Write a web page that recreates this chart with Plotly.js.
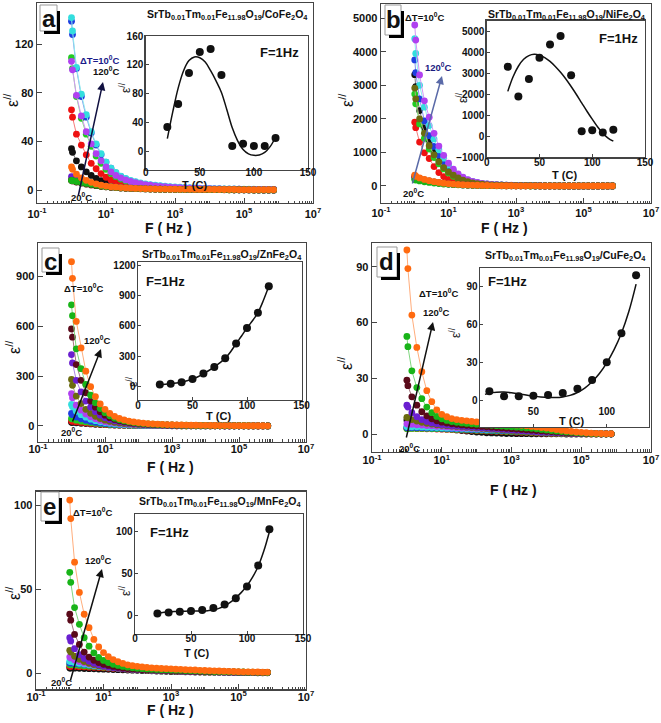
<!DOCTYPE html>
<html><head><meta charset="utf-8">
<script src="https://cdn.plot.ly/plotly-3.0.1.min.js"></script>
<style>html,body{margin:0;padding:0;background:#fff}#chart{width:661px;height:723px}</style>
</head><body><div id="chart"></div>
<script>
// ---------------- DATA ----------------
const freq = [1, 1.07, 1.39, 1.93, 2.68, 3.73, 5.18, 7.2, 10, 13.9, 19.3, 26.8, 37.3, 51.8, 72, 100, 139, 193, 268, 373, 518, 720, 1000, 1390, 1930, 2680, 3730, 5180, 7200, 10000, 13900, 19300, 26800, 37300, 51800, 72000, 100000, 139000, 193000, 268000, 373000, 518000, 720000];
const temps = [20, 30, 40, 50, 60, 70, 80, 90, 100, 110, 120];
const xTickVals = [0.1, 10, 1000, 100000, 10000000];
const xTickText = ['10<sup>-1</sup>', '10<sup>1</sup>', '10<sup>3</sup>', '10<sup>5</sup>', '10<sup>7</sup>'];

// Panel a : CoFe2O4
const a20 = [34,31,24,19,15,12,9.5,7.8,6.3,5.2, 4.3,3.6,3,2.5,2.1,1.8,1.5,1.3,1.1,1, 0.9,0.8,0.7,0.6,0.6,0.5,0.5,0.4,0.4,0.4, 0.3,0.3,0.3,0.3,0.2,0.2,0.2,0.2,0.2,0.2, 0.1,0.1,0.1];
const a30 = [66,60,46,37,29,22,17.5,13.5,10.5,8.3, 6.7,5.4,4.4,3.7,3.1,2.6,2.2,1.9,1.6,1.4, 1.2,1.1,1,0.9,0.8,0.7,0.7,0.6,0.6,0.5, 0.5,0.4,0.4,0.4,0.3,0.3,0.3,0.3,0.2,0.2, 0.2,0.2,0.2];
const a40 = [109,100,77,59,46,36,28,22,17,13.5, 11,9,7.5,6.3,5.3,4.5,3.9,3.4,3,2.6, 2.3,2,1.8,1.6,1.4,1.3,1.2,1.1,1,0.9, 0.8,0.7,0.7,0.6,0.6,0.5,0.5,0.4,0.4,0.4, 0.3,0.3,0.3];
const a50 = [139,128,100,77,60,47,37,29,23,18, 14,11.3,9.2,7.6,6.4,5.4,4.6,4,3.5,3.1, 2.7,2.4,2.1,1.9,1.7,1.5,1.4,1.3,1.2,1.1, 1,0.9,0.8,0.8,0.7,0.7,0.6,0.6,0.5,0.5, 0.5,0.4,0.4];
const a60 = [142,131,101,79,62,48,38,30,23,18, 14.5,11.5,9.5,8,6.8,5.8,5,4.4,3.9,3.5, 3.1,2.8,2.5,2.3,2.1,1.9,1.7,1.5,1.4,1.3, 1.2,1.1,1,0.9,0.85,0.8,0.75,0.7,0.65,0.6, 0.55,0.5,0.5];
const a70 = [106,99,78,61,48,38,30,24,19,15, 12,10,8.3,7,6,5.2,4.5,3.9,3.4,3, 2.7,2.4,2.1,1.9,1.7,1.5,1.4,1.3,1.2,1.1, 1,0.9,0.8,0.8,0.7,0.7,0.6,0.6,0.5,0.5, 0.5,0.4,0.4];
const a80 = [8,7.6,6.8,5.8,5,4.3,3.6,3.1,2.7,2.3, 2,1.7,1.5,1.3,1.2,1.1,1,0.9,0.8,0.7, 0.7,0.6,0.6,0.5,0.5,0.5,0.4,0.4,0.4,0.3, 0.3,0.3,0.3,0.2,0.2,0.2,0.2,0.2,0.1,0.1, 0.1,0.1,0.1];
const a90 = [11,10.5,9,7.5,6.3,5.3,4.5,3.8,3.2,2.7, 2.3,2,1.7,1.5,1.3,1.2,1.1,1,0.9,0.8, 0.7,0.7,0.6,0.6,0.5,0.5,0.5,0.4,0.4,0.4, 0.3,0.3,0.3,0.3,0.2,0.2,0.2,0.2,0.2,0.1, 0.1,0.1,0.1];
const a100 = [8,7.5,6.6,5.7,4.9,4.2,3.6,3.1,2.6,2.2, 1.9,1.6,1.4,1.2,1.1,1,0.9,0.8,0.7,0.7, 0.6,0.6,0.5,0.5,0.5,0.4,0.4,0.4,0.3,0.3, 0.3,0.3,0.2,0.2,0.2,0.2,0.2,0.1,0.1,0.1, 0.1,0.1,0.1];
const a110 = [8,7.7,7,6.2,5.4,4.7,4,3.4,2.9,2.5, 2.1,1.8,1.6,1.4,1.2,1.1,1,0.9,0.8,0.7, 0.7,0.6,0.6,0.5,0.5,0.5,0.4,0.4,0.4,0.3, 0.3,0.3,0.3,0.2,0.2,0.2,0.2,0.2,0.1,0.1, 0.1,0.1,0.1];
const a120 = [19,17,13,10,8,6.3,5,4,3.2,2.7, 2.3,2,1.7,1.5,1.3,1.2,1.1,1,0.9,0.8, 0.8,0.7,0.7,0.6,0.6,0.6,0.5,0.5,0.5,0.5, 0.4,0.4,0.4,0.4,0.4,0.3,0.3,0.3,0.3,0.3, 0.3,0.3,0.3];

// Panel b : NiFe2O4
const b20 = [3320,2960,2250,1730,1320,1000,780,600,450,340, 250,185,135,100,75,58,45,36,29,24, 20,17,14,12,10,9,8,7,6,5, 5,4,4,3,3,3,2,2,2,2, 2,1,1];
const b30 = [1900,1740,1310,990,820,580,400,280,200,150, 110,80,60,45,35,28,22,18,15,12, 10,9,8,7,6,5,4,4,3,3, 3,2,2,2,2,1,1,1,1,1, 1,1,1];
const b40 = [2740,2450,1850,1420,1100,850,660,510,390,290, 220,160,120,90,68,52,40,32,26,21, 17,14,12,10,9,8,7,6,5,4, 4,3,3,3,2,2,2,2,1,1, 1,1,1];
const b50 = [3760,3380,2600,1940,1500,1180,920,700,530,400, 300,220,160,120,90,70,55,43,34,27, 22,18,15,12,10,9,8,7,6,5, 5,4,4,3,3,3,2,2,2,2, 1,1,1];
const b60 = [4390,3950,3000,2350,1800,1400,1080,830,620,460, 340,250,180,135,100,78,60,48,38,31, 25,20,16,13,11,9,7,6,5,4, 4,3,3,2,2,2,1,1,1,1, 1,1,1];
const b70 = [4800,4350,3310,2540,2050,1570,1190,915,680,500, 360,260,190,140,105,80,62,50,40,33, 27,22,18,15,12,10,8,7,6,5, 4,4,3,3,2,2,2,2,1,1, 1,1,1];
const b80 = [2920,2600,2000,1570,1200,930,720,550,420,320, 240,175,130,95,72,55,43,34,27,22, 18,15,12,10,9,8,7,6,5,4, 4,3,3,3,2,2,2,2,1,1, 1,1,1];
const b90 = [240,220,185,155,128,105,87,72,59,48, 40,33,27,22,18,15,12,10,9,8, 7,6,5,5,4,4,3,3,3,2, 2,2,2,2,1,1,1,1,1,1, 1,1,1];
const b100 = [290,265,225,185,150,125,100,82,66,54, 44,36,30,25,21,17,14,12,10,9, 8,7,6,5,5,4,4,3,3,3, 2,2,2,2,2,1,1,1,1,1, 1,1,1];
const b110 = [190,175,150,125,105,88,73,60,50,41, 34,28,23,19,16,13,11,9,8,7, 6,5,5,4,4,3,3,3,2,2, 2,2,2,1,1,1,1,1,1,1, 1,1,1];
const b120 = [320,290,240,195,160,130,105,85,70,57, 46,38,31,26,22,18,15,13,11,9, 8,7,6,5,5,4,4,3,3,3, 2,2,2,2,2,1,1,1,1,1, 1,1,1];

// Panel c : ZnFe2O4
const c20 = [22,21,18.5,16,14,12,10.3,8.8,7.5,6.4, 5.4,4.6,3.9,3.4,2.9,2.5,2.2,2,1.8,1.6, 1.5,1.4,1.3,1.2,1.1,1,0.9,0.8,0.8,0.7, 0.7,0.6,0.6,0.5,0.5,0.5,0.4,0.4,0.4,0.3, 0.3,0.3,0.3];
const c30 = [30,28,24,21,18,15,12.5,10.5,8.8,7.4, 6.2,5.2,4.4,3.8,3.3,2.9,2.5,2.2,2,1.8, 1.6,1.5,1.4,1.3,1.2,1.1,1,0.9,0.8,0.8, 0.7,0.7,0.6,0.6,0.5,0.5,0.5,0.4,0.4,0.4, 0.3,0.3,0.3];
const c40 = [45,42,35,29,24,20,16.5,13.5,11,9.2, 7.7,6.5,5.5,4.7,4,3.5,3,2.6,2.3,2, 1.8,1.6,1.5,1.4,1.3,1.2,1.1,1,0.9,0.8, 0.8,0.7,0.7,0.6,0.6,0.5,0.5,0.5,0.4,0.4, 0.4,0.4,0.3];
const c50 = [75,68,54,43,34,27,22,18,14.5,12, 10,8.3,7,6,5.1,4.4,3.8,3.3,2.9,2.6, 2.3,2,1.8,1.6,1.5,1.4,1.3,1.2,1.1,1, 0.9,0.8,0.8,0.7,0.7,0.6,0.6,0.5,0.5,0.5, 0.4,0.4,0.4];
const c60 = [130,115,88,68,53,41,32,25,20,16, 13,10.5,8.7,7.3,6.2,5.3,4.6,4,3.5,3.1, 2.7,2.4,2.1,1.9,1.7,1.5,1.4,1.3,1.2,1.1, 1,0.9,0.8,0.8,0.7,0.7,0.6,0.6,0.5,0.5, 0.5,0.4,0.4];
const c70 = [195,170,125,95,72,55,43,33,26,21, 17,14,11.5,9.5,8,6.8,5.9,5.1,4.5,4, 3.5,3.1,2.8,2.5,2.2,2,1.8,1.6,1.4,1.3, 1.2,1.1,1,0.9,0.8,0.7,0.7,0.6,0.6,0.5, 0.5,0.5,0.4];
const c80 = [280,245,180,135,100,76,58,45,35,28, 22,18,14.5,12,10,8.5,7.3,6.3,5.5,4.8, 4.2,3.7,3.3,2.9,2.6,2.3,2,1.8,1.6,1.4, 1.3,1.2,1.1,1,0.9,0.8,0.7,0.7,0.6,0.6, 0.5,0.5,0.5];
const c90 = [430,380,275,205,150,113,86,65,50,39, 31,25,20,16,13.5,11.5,9.8,8.4,7.3,6.4, 5.6,4.9,4.3,3.8,3.4,3,2.7,2.4,2.1,1.9, 1.7,1.5,1.3,1.2,1.1,1,0.9,0.8,0.7,0.7, 0.6,0.6,0.5];
const c100 = [585,535,370,275,200,150,113,85,65,50, 39,31,25,20,16.5,14,12,10,8.7,7.6, 6.6,5.8,5.1,4.5,4,3.5,3.1,2.7,2.4,2.1, 1.9,1.7,1.5,1.3,1.2,1.1,1,0.9,0.8,0.7, 0.7,0.6,0.6];
const c110 = [730,665,465,345,250,185,140,105,80,61, 47,37,30,24,20,16.5,14,12,10.5,9, 8,7,6,5.3,4.7,4.2,3.7,3.3,2.9,2.6, 2.3,2,1.8,1.6,1.4,1.3,1.2,1.1,1,0.9, 0.8,0.8,0.7];
const c120 = [990,890,630,470,330,237,177,133,100,76, 58,45,36,29,24,20,17,14.5,12.5,11, 9.5,8.5,7.5,6.7,6,5.4,4.8,4.3,3.9,3.5, 3.1,2.8,2.5,2.2,2,1.8,1.6,1.4,1.3,1.2, 1.1,1,0.9];

// Panel d : CuFe2O4
const d20 = [7.5,7.3,6.8,6.2,5.6,5,4.4,3.9,3.4,3, 2.6,2.2,1.9,1.6,1.3,1.1,0.9,0.7,0.6,0.5, 0.4,0.3,0.3,0.2,0.2,0.2,0.1,0.1,0.1,0.1, 0.1,0.1,0.1,0,0,0,0,0,0,0, 0,0,0];
const d30 = [3,3,3,2.9,2.9,2.8,2.8,2.7,2.6,2.5, 2.4,2.3,2.2,2.1,2,1.9,1.8,1.7,1.6,1.5, 1.4,1.3,1.2,1.1,1,0.9,0.8,0.7,0.6,0.5, 0.4,0.4,0.3,0.3,0.2,0.2,0.2,0.1,0.1,0.1, 0.1,0.1,0.1];
const d40 = [3,3,3,3,3,3,2.9,2.9,2.8,2.7, 2.6,2.5,2.4,2.3,2.2,2.1,2,1.9,1.8,1.7, 1.6,1.5,1.4,1.3,1.2,1.1,1,0.9,0.8,0.7, 0.6,0.5,0.4,0.4,0.3,0.3,0.2,0.2,0.2,0.1, 0.1,0.1,0.1];
const d50 = [3.5,3.5,3.5,3.4,3.4,3.3,3.3,3.2,3.1,3, 2.9,2.8,2.7,2.6,2.5,2.4,2.3,2.2,2.1,2, 1.9,1.8,1.7,1.6,1.5,1.4,1.3,1.2,1.1,1, 0.9,0.8,0.7,0.6,0.5,0.4,0.4,0.3,0.3,0.2, 0.2,0.2,0.1];
const d60 = [4,4,3.9,3.9,3.8,3.7,3.6,3.5,3.4,3.3, 3.2,3.1,3,2.9,2.8,2.7,2.6,2.5,2.4,2.3, 2.2,2.1,2,1.9,1.8,1.7,1.6,1.4,1.3,1.2, 1.1,1,0.9,0.8,0.7,0.6,0.5,0.4,0.3,0.3, 0.2,0.2,0.1];
const d70 = [5.5,5.4,5.2,5,4.8,4.6,4.4,4.2,4,3.8, 3.6,3.4,3.3,3.2,3.1,3,2.9,2.8,2.7,2.6, 2.5,2.4,2.3,2.2,2.1,2,1.9,1.7,1.6,1.4, 1.3,1.1,1,0.9,0.7,0.6,0.5,0.4,0.3,0.3, 0.2,0.2,0.1];
const d80 = [9,8.7,7.8,7,6.3,5.8,5.4,5,4.7,4.5, 4.3,4.1,3.9,3.7,3.5,3.3,3.1,2.9,2.7,2.5, 2.3,2.1,1.9,1.7,1.5,1.3,1.2,1.1,1,0.9, 0.8,0.7,0.6,0.5,0.4,0.3,0.3,0.2,0.2,0.1, 0.1,0.1,0.1];
const d90 = [15.5,14.5,11.5,9.3,7.8,6.8,6,5.5,5.1,4.8, 4.6,4.4,4.2,4,3.8,3.6,3.4,3.2,3,2.8, 2.6,2.4,2.2,2,1.8,1.6,1.4,1.2,1,0.9, 0.8,0.7,0.6,0.5,0.4,0.3,0.3,0.2,0.2,0.1, 0.1,0.1,0.1];
const d100 = [29,26,20,15.5,12,9.8,8.2,7.1,6.4,5.9, 5.5,5.2,4.9,4.7,4.5,4.3,4.1,3.9,3.7,3.5, 3.3,3.1,2.9,2.7,2.5,2.3,2.1,1.9,1.7,1.5, 1.3,1.1,0.9,0.7,0.6,0.5,0.4,0.3,0.2,0.2, 0.1,0.1,0.1];
const d110 = [52.5,47,34,25,19,14.5,11.5,9.5,8.2,7.3, 6.7,6.3,6,5.7,5.5,5.3,5.1,4.9,4.7,4.5, 4.3,4.1,3.9,3.7,3.5,3.3,3.1,2.8,2.5,2.2, 1.9,1.6,1.3,1.1,0.9,0.7,0.5,0.4,0.3,0.2, 0.2,0.1,0.1];
const d120 = [99,89,64,46.6,33.5,23.3,17.4,13,10.6,9.3, 8.3,7.8,7.4,7.1,6.8,6.5,6.3,6.1,5.9,5.7, 5.5,5.3,5.1,4.9,4.7,4.4,4.1,3.8,3.5,3.2, 2.8,2.4,2,1.7,1.4,1.1,0.9,0.7,0.5,0.4, 0.3,0.2,0.2];

// Panel e : MnFe2O4
const e20 = [3,3,2.9,2.8,2.7,2.6,2.5,2.4,2.3,2.2, 2.1,2,1.9,1.8,1.7,1.6,1.5,1.4,1.3,1.2, 1.1,1,0.9,0.8,0.8,0.7,0.7,0.6,0.6,0.5, 0.5,0.4,0.4,0.3,0.3,0.3,0.2,0.2,0.2,0.2, 0.1,0.1,0.1];
const e30 = [4,4,3.9,3.8,3.7,3.5,3.4,3.3,3.1,3, 2.8,2.7,2.5,2.4,2.2,2.1,2,1.8,1.7,1.6, 1.5,1.4,1.3,1.2,1.1,1,0.9,0.8,0.7,0.7, 0.6,0.6,0.5,0.5,0.4,0.4,0.3,0.3,0.3,0.2, 0.2,0.2,0.2];
const e40 = [5,4.9,4.7,4.5,4.3,4.1,3.9,3.7,3.5,3.3, 3.1,2.9,2.7,2.5,2.4,2.2,2.1,1.9,1.8,1.7, 1.6,1.5,1.4,1.3,1.2,1.1,1,0.9,0.8,0.7, 0.7,0.6,0.6,0.5,0.5,0.4,0.4,0.3,0.3,0.3, 0.2,0.2,0.2];
const e50 = [6,5.9,5.6,5.3,5,4.7,4.4,4.1,3.8,3.5, 3.3,3.1,2.9,2.7,2.5,2.3,2.2,2,1.9,1.8, 1.7,1.6,1.5,1.4,1.3,1.2,1.1,1,0.9,0.8, 0.8,0.7,0.6,0.6,0.5,0.5,0.4,0.4,0.3,0.3, 0.3,0.2,0.2];
const e60 = [7,6.8,6.3,5.8,5.3,4.9,4.5,4.1,3.8,3.5, 3.2,3,2.8,2.6,2.4,2.2,2.1,1.9,1.8,1.7, 1.6,1.5,1.4,1.3,1.2,1.1,1,0.9,0.8,0.8, 0.7,0.7,0.6,0.6,0.5,0.5,0.4,0.4,0.3,0.3, 0.3,0.2,0.2];
const e70 = [9.5,9,7.8,6.8,6,5.3,4.7,4.2,3.8,3.4, 3.1,2.8,2.6,2.4,2.2,2,1.9,1.8,1.7,1.6, 1.5,1.4,1.3,1.2,1.1,1,0.9,0.9,0.8,0.8, 0.7,0.7,0.6,0.6,0.5,0.5,0.4,0.4,0.3,0.3, 0.3,0.2,0.2];
const e80 = [13.5,12.5,10,8.2,6.8,5.8,5,4.4,3.9,3.5, 3.1,2.8,2.6,2.4,2.2,2,1.9,1.8,1.7,1.6, 1.5,1.4,1.3,1.2,1.1,1,0.9,0.9,0.8,0.8, 0.7,0.7,0.6,0.6,0.5,0.5,0.4,0.4,0.3,0.3, 0.3,0.2,0.2];
const e90 = [21,19,14.5,11,8.7,7,5.8,4.9,4.2,3.7, 3.3,3,2.7,2.5,2.3,2.1,2,1.9,1.8,1.7, 1.6,1.5,1.4,1.3,1.2,1.1,1,0.9,0.9,0.8, 0.8,0.7,0.7,0.6,0.6,0.5,0.5,0.4,0.4,0.3, 0.3,0.3,0.2];
const e100 = [35,31.5,23,17,12.5,9.5,7.6,6.2,5.2,4.5, 3.9,3.4,3,2.7,2.5,2.3,2.1,2,1.9,1.8, 1.7,1.6,1.5,1.4,1.3,1.2,1.1,1,0.9,0.9, 0.8,0.8,0.7,0.7,0.6,0.6,0.5,0.5,0.4,0.4, 0.3,0.3,0.3];
const e110 = [60,54,39,29,21,16,12,9.3,7.5,6.2, 5.2,4.5,3.9,3.5,3.1,2.8,2.6,2.4,2.2,2.1, 2,1.9,1.8,1.7,1.6,1.5,1.4,1.3,1.2,1.1, 1,0.9,0.9,0.8,0.7,0.7,0.6,0.6,0.5,0.5, 0.4,0.4,0.3];
const e120 = [103,92,66,48,35,27,20,15.5,12.2,9.8, 8,6.7,5.7,4.9,4.4,4,3.6,3.3,3.1,2.9, 2.7,2.6,2.5,2.3,2.2,2,1.9,1.8,1.6,1.5, 1.4,1.3,1.2,1.1,1,0.9,0.8,0.7,0.7,0.6, 0.6,0.5,0.5];

// Insets (F = 1 Hz)
const aInset = [34, 66, 109, 138, 142, 106, 8, 11, 8, 8, 19];
const bInset = [3320, 1900, 2740, 3760, 4390, 4800, 2920, 240, 290, 190, 320];
const cInset = [22, 30, 45, 75, 130, 195, 280, 425, 580, 730, 990];
const dInset = [7, 3, 3, 3.5, 4, 5.5, 9, 16, 30, 53, 99];
const eInset = [3, 4, 5, 6, 7, 9.5, 13.5, 21, 35, 60, 103];
const fitT = [20, 25, 30, 35, 40, 45, 50, 55, 60, 65, 70, 75, 80, 85, 90, 95, 100, 105, 110, 115, 120];
const aFit = [18, 55, 88, 112, 126, 131, 130, 124, 112, 98, 82, 58, 33, 15, 3, -3, -5, -4.5, -1, 7, 20];
const bFit = [2150, 2850, 3350, 3680, 3860, 3920, 3880, 3760, 3580, 3340, 3060, 2740, 2380, 2000, 1600, 1200, 820, 460, 150, -80, -230];
const cFit = [22, 25, 30, 36, 45, 58, 75, 98, 128, 160, 195, 235, 280, 345, 425, 500, 580, 650, 730, 850, 990];
const dFitT = [17, 20, 25, 30, 35, 40, 45, 50, 55, 60, 65, 70, 75, 80, 85, 90, 95, 100, 105, 110, 115, 120];
const dFit = [4.5, 5.5, 6.2, 6.3, 5.8, 5, 4, 3.1, 2.4, 2, 2, 2.5, 3.7, 6, 9.5, 14.5, 21, 29.5, 40, 53, 70, 92];
const eFit = [3.5, 4.2, 4.8, 5.2, 5.5, 5.7, 5.8, 5.9, 6, 6.3, 7, 9, 12, 16, 21.5, 28, 36, 46, 59, 77, 100];

const titles = {
  a: 'SrTb<sub>0.01</sub>Tm<sub>0.01</sub>Fe<sub>11.98</sub>O<sub>19</sub>/CoFe<sub>2</sub>O<sub>4</sub>',
  b: 'SrTb<sub>0.01</sub>Tm<sub>0.01</sub>Fe<sub>11.98</sub>O<sub>19</sub>/NiFe<sub>2</sub>O<sub>4</sub>',
  c: 'SrTb<sub>0.01</sub>Tm<sub>0.01</sub>Fe<sub>11.98</sub>O<sub>19</sub>/ZnFe<sub>2</sub>O<sub>4</sub>',
  d: 'SrTb<sub>0.01</sub>Tm<sub>0.01</sub>Fe<sub>11.98</sub>O<sub>19</sub>/CuFe<sub>2</sub>O<sub>4</sub>',
  e: 'SrTb<sub>0.01</sub>Tm<sub>0.01</sub>Fe<sub>11.98</sub>O<sub>19</sub>/MnFe<sub>2</sub>O<sub>4</sub>'
};

// ---------------- STYLE ----------------
const colors = ['#111111', '#ee1111', '#22cc22', '#1f3fe0', '#33dede', '#b040f0', '#6b6b10', '#6a1fd0', '#5a0a1a', '#18b418', '#ff6a10'];
const W = 661, H = 723;
const PX = v => v / W, PY = v => 1 - v / H;
const FONT = 'Liberation Sans, Arial, sans-serif';
const AX = '#444';
function lighten(hex, f) {
  const n = parseInt(hex.slice(1), 16);
  const r = (n >> 16) & 255, g = (n >> 8) & 255, b = n & 255;
  const m = c => Math.round(c + (255 - c) * f);
  return `rgb(${m(r)},${m(g)},${m(b)})`;
}
const minorVals = [];
for (let e = -1; e < 7; e++) for (let k = 1; k <= 9; k++) minorVals.push(k * Math.pow(10, e));

const panels = [
  {id: 'a', series: [a20,a30,a40,a50,a60,a70,a80,a90,a100,a110,a120], inset: aInset, fitx: fitT, fit: aFit,
   dom: [37,313,3,203], yr: [-10.7,154], yt: [0,40,80,120], xso: 0,
   idom: [145.7,308,36,170], ixr: [0,150], iyr: [-25.3,160], iyt: [0,40,80,120,160], ixt: [0,50,100,150], ixso: -7},
  {id: 'b', series: [b20,b30,b40,b50,b60,b70,b80,b90,b100,b110,b120], inset: bInset, fitx: fitT, fit: bFit,
   dom: [381,651,4,203], yr: [-507,5426], yt: [0,1000,2000,3000,4000,5000], xso: -1,
   idom: [486.7,645,20.7,157.3], ixr: [0,150], iyr: [-1000,5525], iyt: [-1000,0,1000,2000,3000,4000,5000], ixt: [0,50,100,150], ixso: -5},
  {id: 'c', series: [c20,c30,c40,c50,c60,c70,c80,c90,c100,c110,c120], inset: cInset, fitx: fitT, fit: cFit,
   dom: [38,306,243.3,441.7], yr: [-95,1101], yt: [0,300,600,900], xso: -3,
   idom: [138,301.5,262,400], ixr: [0,150], iyr: [-131,1230], iyt: [0,300,600,900,1200], ixt: [0,50,100,150], ixso: -4},
  {id: 'd', series: [d20,d30,d40,d50,d60,d70,d80,d90,d100,d110,d120], inset: dInset, fitx: dFitT, fit: dFit,
   dom: [372,651,243.3,451.7], yr: [-9.5,102.6], yt: [0,30,60,90], xso: -2,
   idom: [480,649,268,427], ixr: [13.6,128.8], iyr: [-21.4,104.8], iyt: [0,30,60,90], ixt: [50,100], ixso: 6, ixinside: true},
  {id: 'e', series: [e20,e30,e40,e50,e60,e70,e80,e90,e100,e110,e120], inset: eInset, fitx: fitT, fit: eFit,
   dom: [36,306,491.7,689.3], yr: [-9.7,108], yt: [0,50,100], xso: -3,
   idom: [135,303,514,634], ixr: [0,150], iyr: [-21.4,121], iyt: [0,50,100], ixt: [0,50,100,150], ixso: -5}
];

const traces = [];
const layout = {
  width: W, height: H, autosize: false, showlegend: false,
  margin: {l: 0, r: 0, t: 0, b: 0},
  paper_bgcolor: '#fff', plot_bgcolor: '#fff',
  font: {family: FONT, color: '#111'},
  annotations: [], shapes: []
};

function axBase() {
  return {showgrid: false, zeroline: false, showline: true, mirror: true, linecolor: AX, linewidth: 1.4,
          ticks: 'inside', ticklen: 4, tickcolor: AX, tickwidth: 1};
}

panels.forEach((p, i) => {
  const mx = 2 * i + 1, ix = 2 * i + 2;
  const mxs = mx === 1 ? '' : String(mx);
  const xk = 'xaxis' + mxs, yk = 'yaxis' + mxs, xik = 'xaxis' + ix, yik = 'yaxis' + ix;
  const xr = 'x' + mxs, yr = 'y' + mxs, xir = 'x' + ix, yir = 'y' + ix;

  layout[xk] = Object.assign(axBase(), {
    type: 'log', range: [-1, 7], domain: [PX(p.dom[0]), PX(p.dom[1])], anchor: yr,
    tickmode: 'array', tickvals: xTickVals, ticktext: xTickText, ticklen: 5, ticklabelstandoff: p.xso,
    tickfont: {family: FONT, size: 11, weight: 'bold', color: '#111'},
    minor: {tickmode: 'array', tickvals: minorVals, ticks: 'inside', ticklen: 2.5, tickcolor: AX}
  });
  layout[yk] = Object.assign(axBase(), {
    range: p.yr, domain: [PY(p.dom[3]), PY(p.dom[2])], anchor: xr,
    tickmode: 'array', tickvals: p.yt, ticklen: 5,
    tickfont: {family: FONT, size: 11, weight: 'bold', color: '#111'}
  });
  layout[xik] = Object.assign(axBase(), {
    range: p.ixr, domain: [PX(p.idom[0]), PX(p.idom[1])], anchor: yir,
    tickmode: 'array', tickvals: p.ixt, ticklen: 3, ticklabelstandoff: p.ixso,
    ticklabelposition: p.ixinside ? 'inside' : 'outside',
    tickfont: {family: FONT, size: 10, weight: 'bold', color: '#111'}
  });
  layout[yik] = Object.assign(axBase(), {
    range: p.iyr, domain: [PY(p.idom[3]), PY(p.idom[2])], anchor: xir,
    tickmode: 'array', tickvals: p.iyt, ticklen: 3, ticklabelstandoff: -1,
    tickfont: {family: FONT, size: 10, weight: 'bold', color: '#111'}
  });

  p.series.forEach((ys, k) => {
    traces.push({
      type: 'scatter', mode: 'lines+markers', xaxis: xr, yaxis: yr,
      x: freq.slice(0, ys.length), y: ys, name: temps[k] + ' °C',
      line: {color: lighten(colors[k], 0.45), width: 1},
      marker: {color: colors[k], size: 6.8}
    });
  });
  traces.push({type: 'scatter', mode: 'lines', xaxis: xir, yaxis: yir, x: p.fitx, y: p.fit,
    line: {color: '#111', width: 1.5, shape: 'spline'}, hoverinfo: 'skip'});
  traces.push({type: 'scatter', mode: 'markers', xaxis: xir, yaxis: yir, x: temps, y: p.inset,
    marker: {color: '#111', size: 8}});
});

// ---------------- TEXT / DECORATION ----------------
function ann(x, y, text, size, opts) {
  layout.annotations.push(Object.assign({xref: 'paper', yref: 'paper', x: PX(x), y: PY(y), text: text,
    showarrow: false, xanchor: 'center', yanchor: 'middle',
    font: {family: FONT, size: size, color: '#111', weight: 'bold'}}, opts || {}));
}
function arrow(tx, ty, hx, hy, color) {
  layout.annotations.push({xref: 'paper', yref: 'paper', x: PX(hx), y: PY(hy), ax: tx - hx, ay: ty - hy,
    axref: 'pixel', ayref: 'pixel', text: '', showarrow: true, arrowhead: 2, arrowsize: 1.1, arrowwidth: 1.5,
    arrowcolor: color});
}
function labelBox(x0, y0, x1, y1, letter, lx, ly) {
  layout.shapes.push({type: 'rect', xref: 'paper', yref: 'paper', x0: PX(x0), x1: PX(x1), y0: PY(y1), y1: PY(y0),
    line: {color: '#999', width: 1}, fillcolor: '#fff'});
  layout.shapes.push({type: 'line', xref: 'paper', yref: 'paper', x0: PX(x1 + 1.5), x1: PX(x1 + 1.5), y0: PY(y0 + 6), y1: PY(y1 + 3),
    line: {color: '#000', width: 3}});
  layout.shapes.push({type: 'line', xref: 'paper', yref: 'paper', x0: PX(x0 + 4), x1: PX(x1 + 3), y0: PY(y1 + 1.5), y1: PY(y1 + 1.5),
    line: {color: '#000', width: 3}});
  ann(lx, ly, letter, 24);
}

const eps = 'ε<sup>//</sup>';
const degT = 'ΔT=10<sup>0</sup>C', t120 = '120<sup>0</sup>C', t20 = '20<sup>0</sup>C';
const epsMain = {textangle: -90, font: {family: FONT, size: 16, color: '#111'}};
const epsIn = {textangle: -90, font: {family: FONT, size: 12, color: '#111'}};

// panel a
labelBox(40, 5, 57, 31, 'a', 48.5, 18);
ann(227, 15, titles.a, 10.5);
ann(11, 100, eps, 16, epsMain);
ann(168, 228, 'F ( Hz )', 14);
ann(99, 60, degT, 9.5, {font: {family: FONT, size: 9.5, color: '#1a1a8a', weight: 'bold'}});
ann(106, 71, t120, 9.5);
ann(81, 197, t20, 9.5);
arrow(78, 197, 103, 82, '#101040');
ann(279, 53, 'F=1Hz', 13);
ann(194, 185, 'T (C)', 11);
ann(125, 87, eps, 12, epsIn);

// panel b
labelBox(385, 5, 401, 35, 'b', 393, 19);
ann(567, 15, titles.b, 10.5);
ann(346, 100, eps, 16, epsMain);
ann(504, 228, 'F ( Hz )', 14);
ann(425, 17, degT, 9.5);
ann(438, 67, t120, 9.5, {font: {family: FONT, size: 9.5, color: '#1a1a80', weight: 'bold'}});
ann(413, 193, t20, 9.5);
arrow(412, 185, 442, 76, '#5a6aa8');
ann(618, 38, 'F=1Hz', 13);
ann(564, 175, 'T (C)', 11);
ann(462, 97, eps, 12, epsIn);

// panel c
labelBox(42, 248, 59, 272, 'c', 50, 261);
ann(222, 255, titles.c, 10.5);
ann(13, 347, eps, 16, epsMain);
ann(170, 467, 'F ( Hz )', 14);
ann(83, 288, degT, 9.5);
ann(97, 340, t120, 9.5);
ann(71, 432, t20, 9.5);
arrow(72, 423, 101, 349, '#111');
ann(165, 282, 'F=1Hz', 13);
ann(218, 416, 'T (C)', 11);
ann(132, 382, eps, 12, epsIn);

// panel d
labelBox(377, 247, 397, 277, 'd', 386.5, 261);
ann(565, 256, titles.d, 10.5);
ann(345, 363, eps, 16, epsMain);
ann(513, 490, 'F ( Hz )', 14);
ann(438, 293, degT, 9.5);
ann(436, 312, t120, 9.5);
ann(410, 448, t20, 9.5);
arrow(406, 439, 433, 322, '#111');
ann(507, 282, 'F=1Hz', 13);
ann(571, 421, 'T (C)', 11);
ann(455, 332, eps, 12, epsIn);

// panel e
labelBox(41, 492, 59, 521, 'e', 49.5, 507);
ann(220, 502, titles.e, 10.5);
ann(13, 593, eps, 16, epsMain);
ann(170, 710, 'F ( Hz )', 14);
ann(93, 512, degT, 9.5);
ann(98, 560, t120, 9.5);
ann(61, 682, t20, 9.5);
arrow(70, 682, 102, 569, '#111');
ann(169, 532, 'F=1Hz', 13);
ann(196, 653, 'T (C)', 11);
ann(125, 590, eps, 12, epsIn);

Plotly.newPlot('chart', traces, layout, {displayModeBar: false, staticPlot: true});
</script>
</body></html>
